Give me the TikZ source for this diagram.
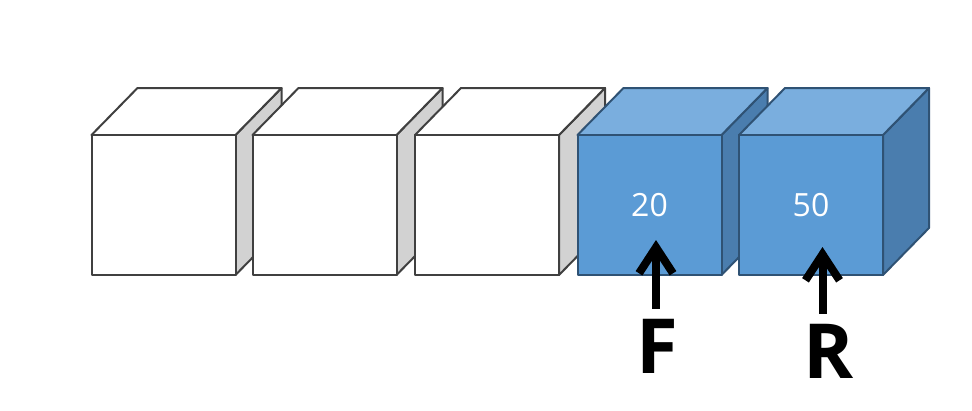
\documentclass[tikz,border=0pt]{standalone}
\usepackage{fontspec}
\setmainfont{Open Sans}
\usetikzlibrary{arrows.meta}
\definecolor{wfront}{HTML}{FFFFFF}
\definecolor{wtop}{HTML}{FFFFFF}
\definecolor{wside}{HTML}{D2D2D2}
\definecolor{wline}{HTML}{404040}
\definecolor{bfront}{HTML}{5B9BD5}
\definecolor{btop}{HTML}{7AAEDE}
\definecolor{bside}{HTML}{4A7DAE}
\definecolor{bline}{HTML}{2F5274}
\tikzset{
  cubeline/.style={line width=2pt, line join=round},
  numtext/.style={text=white, font=\fontsize{32}{32}\selectfont, inner sep=0pt},
  ptrtext/.style={font=\fontsize{76}{76}\selectfont\bfseries, inner sep=0pt},
  ptrarrow/.style={line width=8pt, -{Straight Barb[length=26pt, width=34pt, line join=miter]}}
}
\newcommand{\drawcube}[5]{% x, front, top, side, line
  \filldraw[cubeline, draw=#5, fill=#4] (#1+144,135) -- (#1+190,88) -- (#1+190,228) -- (#1+144,275) -- cycle;
  \filldraw[cubeline, draw=#5, fill=#3] (#1,135) -- (#1+46,88) -- (#1+190,88) -- (#1+144,135) -- cycle;
  \filldraw[cubeline, draw=#5, fill=#2] (#1,135) rectangle (#1+144,275);
}
\begin{document}
\begin{tikzpicture}[x=1pt, y=-1pt]
\useasboundingbox (0,0) rectangle (972,410);
\drawcube{91.5}{wfront}{wtop}{wside}{wline}
\drawcube{252.5}{wfront}{wtop}{wside}{wline}
\drawcube{415}{wfront}{wtop}{wside}{wline}
\drawcube{577.5}{bfront}{btop}{bside}{bline}
\drawcube{739}{bfront}{btop}{bside}{bline}
\node[numtext] (n20) at (649.5,205) {20};
\node[numtext] (n50) at (811,205) {50};
\node[ptrtext] (F) at (657.5,346) {F};
\node[ptrtext] (R) at (829,351) {R};
\coordinate (ftip) at (656,240);
\coordinate (rtip) at (822.5,247);
\draw[ptrarrow] ([yshift=10pt]ftip |- F.north) -- (ftip);
\draw[ptrarrow] ([yshift=10pt]rtip |- R.north) -- (rtip);
\end{tikzpicture}
\end{document}
